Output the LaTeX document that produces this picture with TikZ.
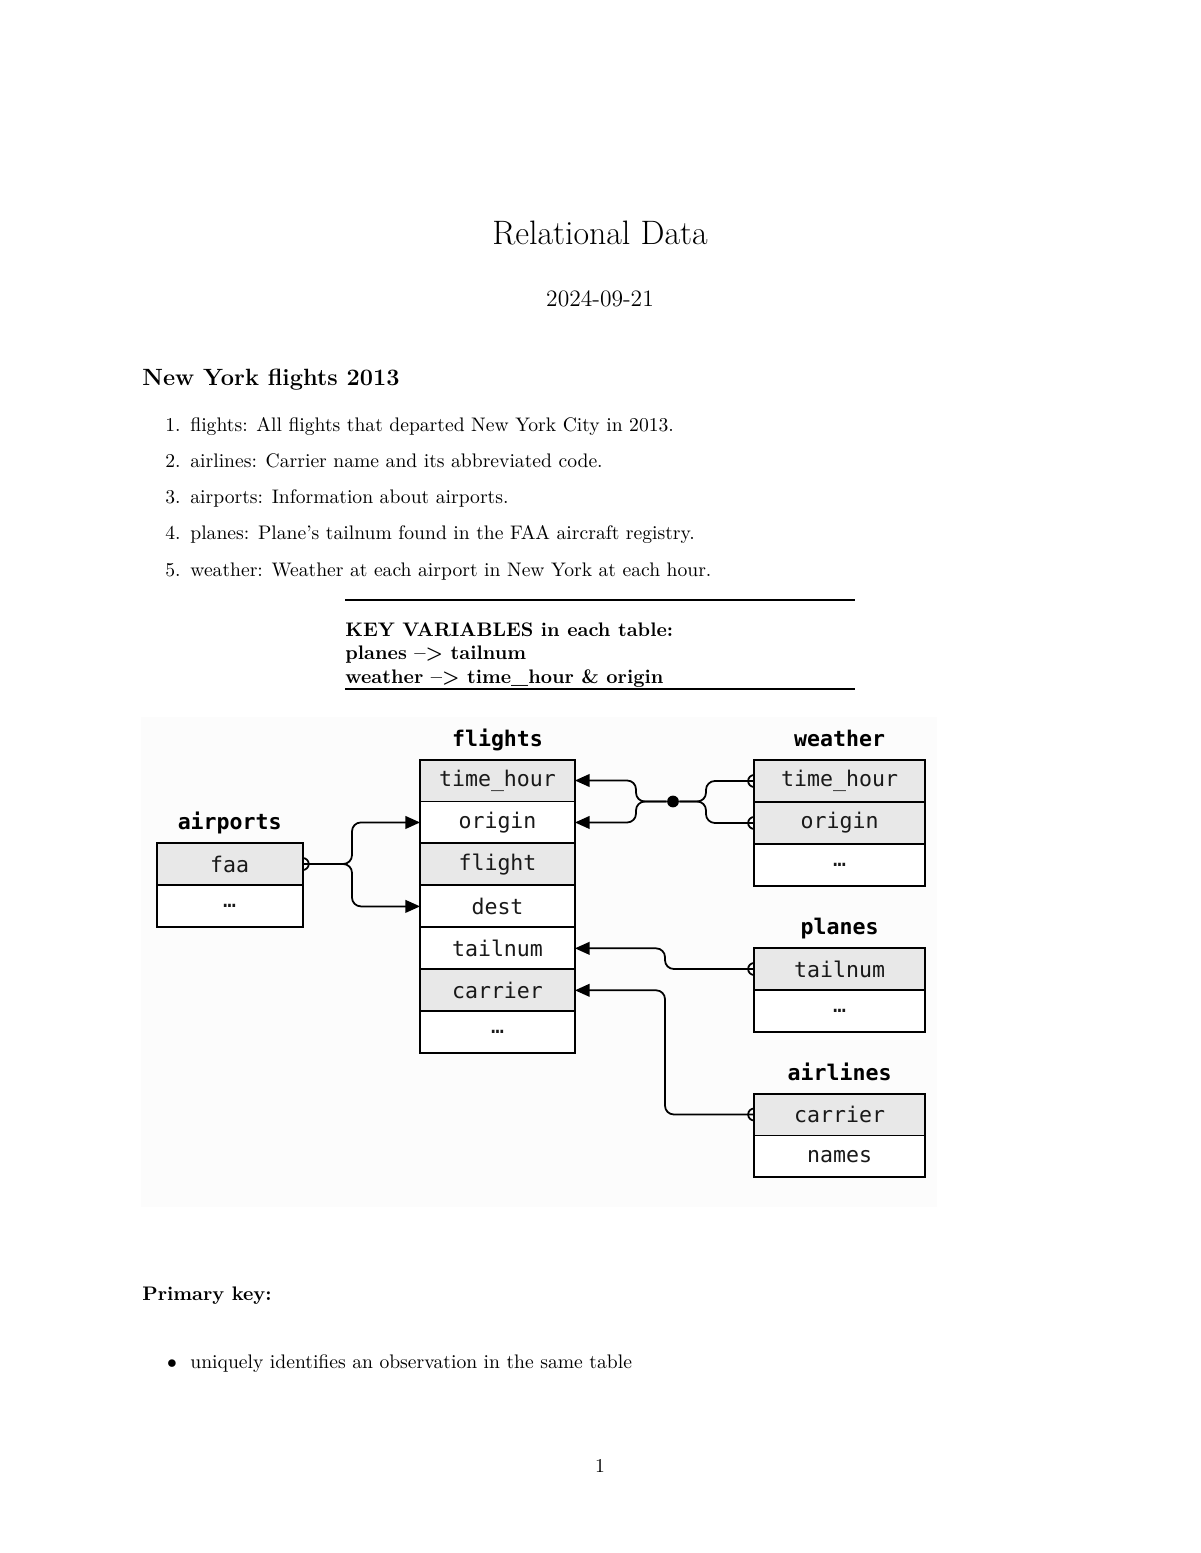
\documentclass[tikz,border=0pt]{standalone}
\usepackage{fontspec}
\newfontfamily\dbmono{DejaVu Sans Mono}
\usetikzlibrary{positioning,arrows.meta}
\definecolor{keygray}{HTML}{E8E8E8}
\definecolor{figback}{HTML}{FCFCFC}

\begin{document}
\begin{tikzpicture}[x=0.51pt,y=-0.51pt,
		txt/.style={anchor=base west,inner sep=0pt},
		mid/.style={anchor=base,inner sep=0pt},
		cell/.style={draw,line width=1pt,minimum width=#1,minimum height=21.4pt,inner sep=0pt,outer sep=0pt,
			font=\dbmono\fontsize{11}{13}\selectfont,text=black!90},
		keycell/.style={cell=#1,fill=keygray},
		plaincell/.style={cell=#1,fill=white},
		tabname/.style={inner sep=0pt,text depth=0pt,font=\dbmono\bfseries\fontsize{11}{13}\selectfont},
		link/.style={line width=0.9pt,rounded corners=4.5pt},
		fk/.style={link,-{Triangle[length=7.5pt,width=6.5pt]}},
	]
	\useasboundingbox (0,0) rectangle (1200,1553);

	\node[mid,font=\LARGE] (title) at (600,245) {Relational Data};
	\node[mid,font=\large] (date) at (600,306) {2024-09-21};
	\node[txt,font=\large\bfseries] (sec) at (142,385) {New York flights 2013};
	\foreach \k/\desc in {1/{flights: All flights that departed New York City in 2013.},
			2/{airlines: Carrier name and its abbreviated code.},
			3/{airports: Information about airports.},
			4/{planes: Plane's tailnum found in the FAA aircraft registry.},
			5/{weather: Weather at each airport in New York at each hour.}}{
		\node[inner sep=0pt,anchor=base east] (num-\k) at (181,{431+36.3*(\k-1)}) {\k.};
		\node[txt] (item-\k) at (190,{431+36.3*(\k-1)}) {\desc};
	}

	\draw[line width=1pt] (345,600) -- (855,600);
	\node[txt,font=\bfseries] (key1) at (345,636) {KEY VARIABLES in each table:};
	\node[txt,font=\bfseries] (key2) at (345,659) {planes --> tailnum};
	\node[txt,font=\bfseries] (key3) at (345,683) {weather --> time\_hour \& origin};
	\draw[line width=1pt] (345,689) -- (855,689);

	\fill[figback] (141,717) rectangle (937,1207);

	\node[keycell=79pt] (fl-th) at (497.5,780.5) {time\_hour};
	\node[plaincell=79pt,below=0pt of fl-th] (fl-or) {origin};
	\node[keycell=79pt,below=0pt of fl-or] (fl-fl) {flight};
	\node[plaincell=79pt,below=0pt of fl-fl] (fl-de) {dest};
	\node[plaincell=79pt,below=0pt of fl-de] (fl-tn) {tailnum};
	\node[keycell=79pt,below=0pt of fl-tn] (fl-ca) {carrier};
	\node[plaincell=79pt,below=0pt of fl-ca] (fl-etc) {…};
	\node[tabname,above=6.5pt of fl-th] (fl-name) {flights};

	\node[keycell=74.5pt] (ap-faa) at (229.7,864) {faa};
	\node[plaincell=74.5pt,below=0pt of ap-faa] (ap-etc) {…};
	\node[tabname,above=6.5pt of ap-faa] (ap-name) {airports};

	\node[keycell=87.2pt] (wt-th) at (839.6,781) {time\_hour};
	\node[keycell=87.2pt,below=0pt of wt-th] (wt-or) {origin};
	\node[plaincell=87.2pt,below=0pt of wt-or] (wt-etc) {…};
	\node[tabname,above=6.5pt of wt-th] (wt-name) {weather};

	\node[keycell=87.2pt] (pl-tn) at (839.6,969) {tailnum};
	\node[plaincell=87.2pt,below=0pt of pl-tn] (pl-etc) {…};
	\node[tabname,above=6.5pt of pl-tn] (pl-name) {planes};

	\node[keycell=87.2pt] (al-ca) at (839.6,1114.5) {carrier};
	\node[plaincell=87.2pt,below=0pt of al-ca] (al-nm) {names};
	\node[tabname,above=6.5pt of al-ca] (al-name) {airlines};

	\coordinate (apj) at (352,864);
	\draw[fk] (ap-faa.east) -- (apj) |- (fl-or.west);
	\draw[fk] (ap-faa.east) -- (apj) |- (fl-de.west);
	\draw[line width=0.9pt] (ap-faa.east) ++(0,-6) arc (-90:90:6);

	\node[circle,fill,inner sep=0pt,minimum size=6pt] (wt-dot) at (673,801.5) {};
	\coordinate (wtl) at (636,801.5);
	\coordinate (wtr) at (706,801.5);
	\draw[fk] (wt-dot) -- (wtl) |- (fl-th.east);
	\draw[fk] (wt-dot) -- (wtl) |- (fl-or.east);
	\draw[link] (wt-dot) -- (wtr) |- (wt-th.west);
	\draw[link] (wt-dot) -- (wtr) |- (wt-or.west);

	\coordinate (busx) at (665,0);
	\draw[fk] (pl-tn.west) -- (pl-tn.west -| busx) |- (fl-tn.east);
	\draw[fk] (al-ca.west) -- (al-ca.west -| busx) |- (fl-ca.east);
	\foreach \n in {wt-th,wt-or,pl-tn,al-ca}
		\draw[line width=0.9pt] (\n.west) ++(0,-6) arc (270:90:6);

	\node[txt,font=\bfseries] (pk) at (142,1300) {Primary key:};
	\node[mid] (bul) at (172,1368) {$\bullet$};
	\node[txt] (pk-1) at (190,1368) {uniquely identifies an observation in the same table};
	\node[mid] (page) at (600,1472) {1};
\end{tikzpicture}
\end{document}
